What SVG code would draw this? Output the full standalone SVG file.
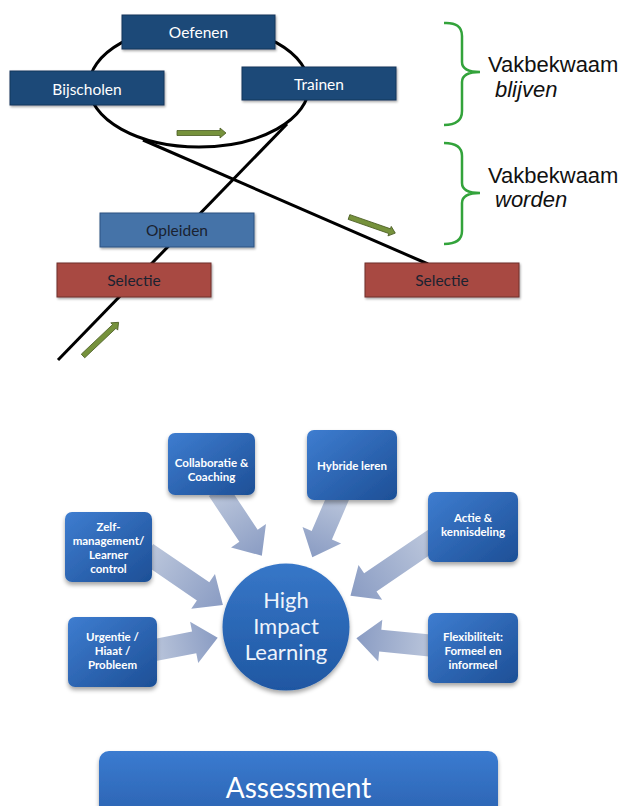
<svg xmlns="http://www.w3.org/2000/svg" width="623" height="806" viewBox="0 0 623 806">
<style>
.dk{fill:#1f4a78;stroke:#15345a;stroke-width:1}
.op{fill:#4573a8;stroke:#2c5282;stroke-width:1}
.sel{fill:#a84a43;stroke:#6f2f2a;stroke-width:1}
.t1{font-family:Lato,"Open Sans",sans-serif;font-size:15.5px;text-anchor:middle}
.w{fill:#ffffff}
.d{fill:#1a2230}
.ln{fill:none;stroke:#000;stroke-width:3;stroke-linecap:butt}
.br{fill:none;stroke:#33a33b;stroke-width:2.5}
.vk{font-family:"Liberation Sans",Arial,sans-serif;font-size:22px;fill:#111}
.it{font-style:italic}
.ga{fill:#76923c;stroke:#4a5c22;stroke-width:0.8}
.bx{fill:url(#bg);filter:url(#sh)}
.bt{font-family:Lato,"Open Sans",sans-serif;font-size:11.5px;font-weight:bold;fill:#ffffff;text-anchor:middle}
.ba{fill:url(#ag)}
</style>
<defs>
<linearGradient id="bg" x1="0" y1="0" x2="1" y2="1">
<stop offset="0" stop-color="#3e7dd0"/>
<stop offset="1" stop-color="#1d4f96"/>
</linearGradient>
<linearGradient id="cg" x1="0" y1="0" x2="0" y2="1">
<stop offset="0" stop-color="#3777c8"/>
<stop offset="1" stop-color="#1f57a2"/>
</linearGradient>
<linearGradient id="asg" x1="0" y1="0" x2="0" y2="1">
<stop offset="0" stop-color="#3b7bd0"/>
<stop offset="1" stop-color="#2a62b0"/>
</linearGradient>
<linearGradient id="ag" x1="0" y1="0" x2="1" y2="0">
<stop offset="0" stop-color="#bcc7dc"/>
<stop offset="1" stop-color="#8a9cc3"/>
</linearGradient>
<filter id="sh" x="-20%" y="-20%" width="140%" height="150%">
<feDropShadow dx="0" dy="3" stdDeviation="2" flood-color="#000" flood-opacity="0.35"/>
</filter>
<filter id="sh2" x="-10%" y="-20%" width="120%" height="150%">
<feDropShadow dx="1" dy="1.5" stdDeviation="1" flood-color="#000" flood-opacity="0.35"/>
</filter>
<path id="garrow" d="M0,-2.5 H43 V-5 L49,0 L43,5 V2.5 H0 Z"/>
</defs>
<rect width="623" height="806" fill="#ffffff"/>

<g id="connectors">
<ellipse class="ln" cx="199" cy="86" rx="110" ry="61" stroke-width="4"/>
<line class="ln" x1="58" y1="360" x2="287" y2="124"/>
<line class="ln" x1="143" y1="140" x2="428" y2="264"/>
<use href="#garrow" class="ga" transform="translate(177,133)"/>
<use href="#garrow" class="ga" transform="translate(349,217) rotate(19.2)"/>
<use href="#garrow" class="ga" transform="translate(83,356) rotate(-43.4)"/>
<path class="ba" transform="translate(218,490) rotate(56.3)" d="M0,-11 H55 V-21 L79,0 L55,21 V11 H0 Z"/>
<path class="ba" transform="translate(147,553) rotate(34.4)" d="M0,-11 H68 V-21 L92,0 L68,21 V11 H0 Z"/>
<path class="ba" transform="translate(150,651) rotate(-11.1)" d="M0,-11 H45 V-21 L69,0 L45,21 V11 H0 Z"/>
<path class="ba" transform="translate(340,493) rotate(113.3)" d="M0,-11 H46 V-21 L70,0 L46,21 V11 H0 Z"/>
<path class="ba" transform="translate(434,539) rotate(145.8)" d="M0,-11 H77 V-21 L101,0 L77,21 V11 H0 Z"/>
<path class="ba" transform="translate(435,646) rotate(185.6)" d="M0,-11 H55 V-21 L79,0 L55,21 V11 H0 Z"/>
</g>

<g id="oefenen">
<rect class="dk" x="122" y="15" width="153" height="34" filter="url(#sh2)"/>
<text class="t1 w" x="198.5" y="38">Oefenen</text>
</g>
<g id="bijscholen">
<rect class="dk" x="10" y="71" width="154" height="34" filter="url(#sh2)"/>
<text class="t1 w" x="87" y="95">Bijscholen</text>
</g>
<g id="trainen">
<rect class="dk" x="242" y="67" width="154" height="33" filter="url(#sh2)"/>
<text class="t1 w" x="319" y="90">Trainen</text>
</g>
<g id="opleiden">
<rect class="op" x="100" y="213" width="154" height="34" filter="url(#sh2)"/>
<text class="t1 d" x="177" y="236">Opleiden</text>
</g>
<g id="selectie1">
<rect class="sel" x="57" y="263" width="154" height="34" filter="url(#sh2)"/>
<text class="t1 d" x="134" y="286">Selectie</text>
</g>
<g id="selectie2">
<rect class="sel" x="365" y="263" width="154" height="34" filter="url(#sh2)"/>
<text class="t1 d" x="442" y="286">Selectie</text>
</g>

<g id="blijven">
<path class="br" d="M444,23 Q462,22 462,36 V62 Q462,72 480,72 Q462,72 462,82 V111 Q462,125 444,125"/>
<text class="vk" x="488" y="72">Vakbekwaam</text>
<text class="vk it" x="495" y="97">blijven</text>
</g>
<g id="worden">
<path class="br" d="M444,143 Q462,143 462,156 V183 Q462,193 480,193 Q462,193 462,203 V231 Q462,244 444,244"/>
<text class="vk" x="488" y="183">Vakbekwaam</text>
<text class="vk it" x="495" y="207">worden</text>
</g>

<g id="collaboratie">
<rect class="bx" x="168" y="433" width="87" height="62" rx="7"/>
<text class="bt" x="211.5" y="467">Collaboratie &amp;</text>
<text class="bt" x="211.5" y="481">Coaching</text>
</g>
<g id="hybride">
<rect class="bx" x="307" y="430" width="90" height="70" rx="7"/>
<text class="bt" x="352" y="470">Hybride leren</text>
</g>
<g id="zelfmanagement">
<rect class="bx" x="65" y="512" width="87" height="70" rx="7"/>
<text class="bt" x="108.5" y="531">Zelf-</text>
<text class="bt" x="108.5" y="545">management/</text>
<text class="bt" x="108.5" y="559">Learner</text>
<text class="bt" x="108.5" y="573">control</text>
</g>
<g id="actie">
<rect class="bx" x="428" y="492" width="90" height="70" rx="7"/>
<text class="bt" x="473" y="522">Actie &amp;</text>
<text class="bt" x="473" y="536">kennisdeling</text>
</g>
<g id="urgentie">
<rect class="bx" x="68" y="617" width="89" height="70" rx="7"/>
<text class="bt" x="112.5" y="641">Urgentie /</text>
<text class="bt" x="112.5" y="655">Hiaat /</text>
<text class="bt" x="112.5" y="669">Probleem</text>
</g>
<g id="flexibiliteit">
<rect class="bx" x="428" y="613" width="90" height="70" rx="7"/>
<text class="bt" x="473" y="641">Flexibiliteit:</text>
<text class="bt" x="473" y="655">Formeel en</text>
<text class="bt" x="473" y="669">informeel</text>
</g>
<g id="hil">
<circle cx="286" cy="627" r="63.5" fill="url(#cg)" filter="url(#sh)"/>
<text font-family="Lato,'Open Sans',sans-serif" font-size="22" fill="#eef3fb" text-anchor="middle"><tspan x="286" y="608">High</tspan><tspan x="286" y="634">Impact</tspan><tspan x="286" y="660">Learning</tspan></text>
</g>
<g id="assessment">
<rect x="99" y="751" width="399" height="70" rx="10" fill="url(#asg)" filter="url(#sh)"/>
<text x="298.5" y="798" font-family="Lato,'Open Sans',sans-serif" font-size="28" fill="#ffffff" text-anchor="middle">Assessment</text>
</g>
</svg>
